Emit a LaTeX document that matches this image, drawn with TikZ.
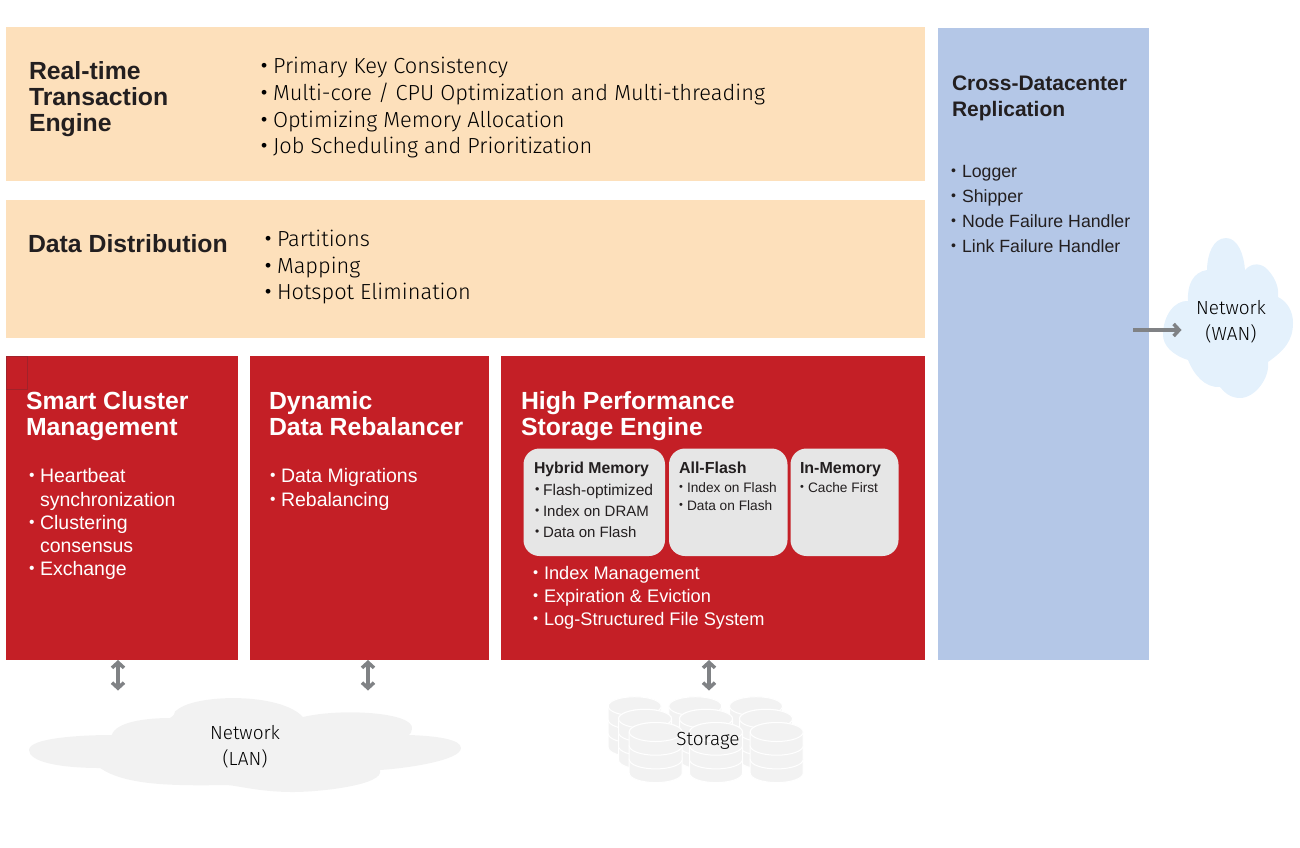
\documentclass[tikz,border=0pt]{standalone}
\usepackage{fontspec}
\setmainfont{Liberation Sans}
\newfontfamily\lightface{Fira Sans Light}
\usetikzlibrary{arrows.meta,calc}
\definecolor{peach}{HTML}{FDE0BB}
\definecolor{brick}{HTML}{C41F26}
\definecolor{brickline}{HTML}{A1222A}
\definecolor{steel}{HTML}{B4C7E7}
\definecolor{panel}{HTML}{E6E6E6}
\definecolor{cloudgray}{HTML}{F2F2F2}
\definecolor{cloudblue}{HTML}{E4F1FC}
\definecolor{arrowgray}{HTML}{808285}
\definecolor{ink}{HTML}{231F20}
\tikzset{
  x=1pt,y=-1pt,
  band/.style={fill=#1,draw=none,inner sep=0pt,outer sep=0pt,anchor=north west},
  memcard/.style={fill=panel,draw=none,rounded corners=16pt,inner sep=0pt,outer sep=0pt,anchor=north west},
  txt/.style={inner sep=0pt,outer sep=0pt,anchor=base west,text=ink},
  ctr/.style={inner sep=0pt,outer sep=0pt,anchor=base,text=black,font=\lightface\fontsize{19}{19}\selectfont},
  head/.style={font=\fontsize{#1}{#1}\selectfont\bfseries},
  item/.style={font=\fontsize{#1}{#1}\selectfont},
  lightitem/.style={font=\lightface\fontsize{#1}{#1}\selectfont,text=black},
  white text/.style={text=white},
  link/.style={draw=arrowgray,line width=4pt,{Straight Barb[length=5.5pt,width=12pt,line width=3.5pt]}-{Straight Barb[length=5.5pt,width=12pt,line width=3.5pt]}},
  linkone/.style={draw=arrowgray,line width=4pt,-{Straight Barb[length=5.5pt,width=12pt,line width=3.5pt]}}
}
\newcommand{\mybul}[2]{\makebox[#1pt][l]{\raisebox{0.08em}{\scalebox{0.8}{\normalfont •}}}#2}
\newcommand{\bandbox}[6]{\node[band=#2,minimum width=#5pt-#3pt,minimum height=#6pt-#4pt] (#1) at (#3,#4) {};}
\newcommand{\card}[5]{\node[memcard,minimum width=#4pt-#2pt,minimum height=#5pt-#3pt] (#1) at (#2,#3) {};}
\newcommand{\stack}[2]{%
  \foreach \k in {2,1,0}{
    \fill[cloudgray,draw=white,line width=1pt] (#1-26.5,#2+\k*13.7) -- (#1-26.5,#2+\k*13.7+13.7) arc[start angle=180,end angle=360,x radius=26.5pt,y radius=9.5pt] -- (#1+26.5,#2+\k*13.7) arc[start angle=0,end angle=180,x radius=26.5pt,y radius=9.5pt] -- cycle;
  }
  \fill[cloudgray,draw=white,line width=1pt] (#1,#2) ellipse[x radius=26.5pt,y radius=9.5pt];
}
\begin{document}
\begin{tikzpicture}
\useasboundingbox (0,0) rectangle (1300,847);
\bandbox{rt}{peach}{6}{27}{925.3}{181.3}
\bandbox{dd}{peach}{6}{200}{925.3}{338.3}
\bandbox{sc}{brick}{6}{356.3}{238.4}{659.6}
\bandbox{dr}{brick}{250}{356.3}{489.3}{659.6}
\bandbox{hp}{brick}{501}{356.3}{925.3}{659.6}
\bandbox{xd}{steel}{938}{28}{1149.3}{659.6}
\node[draw=brickline,line width=.6pt,fill=none,inner sep=0pt,outer sep=0pt,anchor=north west,minimum width=20.5pt,minimum height=33pt] (marker) at (6.3,356.3) {};
\card{hy}{523.5}{448.5}{665}{556}
\card{af}{669}{448.5}{787.5}{556}
\card{im}{790.5}{448.5}{898.5}{556}

% LAN cloud
\fill[cloudgray] (29,750) .. controls (29,738) and (80,735) .. (111.7,735)
 .. controls (116,722) and (145,718) .. (170,718)
 .. controls (178,713) and (172,712) .. (177,710)
 .. controls (195,694) and (280,692) .. (303,717)
 .. controls (340,708) and (415,712) .. (412,729)
 .. controls (412,732) and (410,734) .. (409,735)
 .. controls (440,736) and (461,740) .. (461,748)
 .. controls (461,760) and (410,768) .. (380,770)
 .. controls (385,785) and (320,792) .. (293,792)
 .. controls (260,792) and (240,786) .. (227,785)
 .. controls (170,786) and (125,785) .. (100,768)
 .. controls (60,768) and (29,762) .. (29,750) -- cycle;
% WAN cloud
\fill[cloudblue] (1226,238) .. controls (1238,238) and (1244,255) .. (1245,270)
 .. controls (1252,262) and (1262,263) .. (1268,270)
 .. controls (1277,280) and (1279,290) .. (1278,297)
 .. controls (1288,302) and (1293,312) .. (1293,323)
 .. controls (1293,340) and (1285,350) .. (1268,362)
 .. controls (1270,378) and (1255,398) .. (1240,398)
 .. controls (1230,398) and (1224,392) .. (1220,387)
 .. controls (1205,388) and (1194,375) .. (1188,360)
 .. controls (1172,355) and (1163,345) .. (1163,335)
 .. controls (1163,315) and (1175,300) .. (1188,301)
 .. controls (1187,285) and (1193,272) .. (1207,270)
 .. controls (1207,255) and (1213,238) .. (1226,238) -- cycle;
% storage
\stack{634.7}{706.2}\stack{695.3}{706.2}\stack{756}{706.2}
\stack{645}{718.8}\stack{706}{718.8}\stack{766}{718.8}
\stack{655.7}{732}\stack{716}{732}\stack{776.7}{732}

\coordinate (lanA) at (118,660);
\coordinate (lanAend) at (118,690.5);
\coordinate (lanB) at (368,660);
\coordinate (lanBend) at (368,690.5);
\coordinate (stA) at (709,660);
\coordinate (stAend) at (709,690.5);
\coordinate (wanA) at (1133,330);
\coordinate (wanB) at (1181.5,330);
\draw[link] (lanA) -- (lanAend);
\draw[link] (lanB) -- (lanBend);
\draw[link] (stA) -- (stAend);
\draw[linkone] (wanA) -- (wanB);

% text: real-time
\node[txt,head=24.8] (t1) at (29,79) {Real-time};
\node[txt,head=24.8] (t2) at (29,105) {Transaction};
\node[txt,head=24.8] (t3) at (29,131) {Engine};
\node[txt,lightitem=21.8] (t4) at (261,73) {\mybul{12}{Primary Key Consistency}};
\node[txt,lightitem=21.8] (t5) at (261,100) {\mybul{12}{Multi-core / CPU Optimization and Multi-threading}};
\node[txt,lightitem=21.8] (t6) at (261,127) {\mybul{12}{Optimizing Memory Allocation}};
\node[txt,lightitem=21.8] (t7) at (261,153) {\mybul{12}{Job Scheduling and Prioritization}};
\node[txt,head=24.8] (d1) at (28,252) {Data Distribution};
\node[txt,lightitem=21.8] (d2) at (265,246) {\mybul{12}{Partitions}};
\node[txt,lightitem=21.8] (d3) at (265,273) {\mybul{12}{Mapping}};
\node[txt,lightitem=21.8] (d4) at (265,299) {\mybul{12}{Hotspot Elimination}};
% cluster
\node[txt,white text,head=24.8] (s1) at (26,409) {Smart Cluster};
\node[txt,white text,head=24.8] (s2) at (26,435) {Management};
\node[txt,white text,item=19.5] (s3) at (29,482) {\mybul{11}{Heartbeat}};
\node[txt,white text,item=19.5] (s4) at (40,506) {synchronization};
\node[txt,white text,item=19.5] (s5) at (29,529) {\mybul{11}{Clustering}};
\node[txt,white text,item=19.5] (s6) at (40,552) {consensus};
\node[txt,white text,item=19.5] (s7) at (29,575) {\mybul{11}{Exchange}};
\node[txt,white text,head=24.8] (r1) at (269,409) {Dynamic};
\node[txt,white text,head=24.8] (r2) at (269,435) {Data Rebalancer};
\node[txt,white text,item=19.5] (r3) at (270,482) {\mybul{11}{Data Migrations}};
\node[txt,white text,item=19.5] (r4) at (270,506) {\mybul{11}{Rebalancing}};
\node[txt,white text,head=24.8] (h1) at (521,409) {High Performance};
\node[txt,white text,head=24.8] (h2) at (521,435) {Storage Engine};
\node[txt,white text,item=18.2] (h3) at (533,579) {\mybul{11}{Index Management}};
\node[txt,white text,item=18.2] (h4) at (533,602) {\mybul{11}{Expiration \& Eviction}};
\node[txt,white text,item=18.2] (h5) at (533,625) {\mybul{11}{Log-Structured File System}};
% cards
\node[txt,head=15.8] (c1) at (534,473) {Hybrid Memory};
\node[txt,item=15.6] (c2) at (535,495) {\mybul{8}{Flash-optimized}};
\node[txt,item=15] (c3) at (535,516) {\mybul{8}{Index on DRAM}};
\node[txt,item=15] (c4) at (535,537) {\mybul{8}{Data on Flash}};
\node[txt,head=16] (c5) at (679,473) {All-Flash};
\node[txt,item=13.7] (c6) at (679,492) {\mybul{8}{Index on Flash}};
\node[txt,item=13.7] (c7) at (679,510) {\mybul{8}{Data on Flash}};
\node[txt,head=16] (c8) at (800,473) {In-Memory};
\node[txt,item=13.7] (c9) at (800,492) {\mybul{8}{Cache First}};
% replication
\node[txt,head=21] (x1) at (952,90) {Cross-Datacenter};
\node[txt,head=21] (x2) at (952,116) {Replication};
\node[txt,item=17.7] (x3) at (951,177) {\mybul{11}{Logger}};
\node[txt,item=17.7] (x4) at (951,202) {\mybul{11}{Shipper}};
\node[txt,item=17.7] (x5) at (951,227) {\mybul{11}{Node Failure Handler}};
\node[txt,item=17.7] (x6) at (951,252) {\mybul{11}{Link Failure Handler}};
% cloud labels
\node[ctr] (w1) at (1231,314) {Network};
\node[ctr] (w2) at (1231,340) {(WAN)};
\node[ctr] (l1) at (245,739) {Network};
\node[ctr] (l2) at (245,765) {(LAN)};
\node[ctr] (st) at (708,745) {Storage};
\end{tikzpicture}
\end{document}
